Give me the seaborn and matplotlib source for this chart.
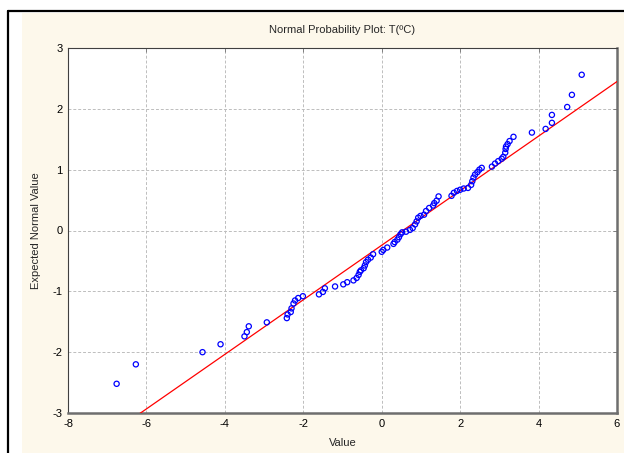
import matplotlib
matplotlib.use("Agg")
import matplotlib.pyplot as plt
import seaborn as sns
import numpy as np
import pandas as pd
from matplotlib.lines import Line2D
from matplotlib.patches import Rectangle

# ---- data ----
values = [-6.76, -6.27, -4.57, -4.11, -3.50, -3.44, -3.39, -2.93, -2.42, -2.40,
          -2.32, -2.30, -2.25, -2.21, -2.13, -2.01, -1.60, -1.50, -1.45, -1.19,
          -0.98, -0.88, -0.72, -0.64, -0.59, -0.56, -0.53, -0.46, -0.43, -0.40,
          -0.35, -0.28, -0.22, 0.00, 0.04, 0.14, 0.30, 0.33, 0.40, 0.44,
          0.48, 0.52, 0.62, 0.72, 0.79, 0.85, 0.89, 0.93, 0.99, 1.08,
          1.13, 1.21, 1.31, 1.34, 1.40, 1.45, 1.78, 1.84, 1.92, 2.00,
          2.09, 2.20, 2.28, 2.31, 2.34, 2.38, 2.44, 2.49, 2.55, 2.81,
          2.89, 2.97, 3.06, 3.10, 3.15, 3.16, 3.17, 3.21, 3.26, 3.36,
          3.83, 4.18, 4.34, 4.34, 4.73, 4.85, 5.10]
expected = [-2.52, -2.20, -2.00, -1.87, -1.74, -1.67, -1.575, -1.51, -1.44, -1.38,
            -1.34, -1.28, -1.20, -1.15, -1.11, -1.08, -1.05, -1.01, -0.95, -0.92,
            -0.885, -0.85, -0.82, -0.78, -0.73, -0.68, -0.655, -0.62, -0.575, -0.52,
            -0.48, -0.445, -0.39, -0.35, -0.32, -0.28, -0.22, -0.19, -0.15, -0.11,
            -0.06, -0.03, -0.02, 0.01, 0.04, 0.10, 0.15, 0.21, 0.24, 0.26,
            0.32, 0.37, 0.41, 0.45, 0.49, 0.56, 0.57, 0.62, 0.65, 0.67,
            0.69, 0.70, 0.75, 0.81, 0.87, 0.92, 0.96, 1.00, 1.03, 1.05,
            1.10, 1.14, 1.18, 1.21, 1.28, 1.34, 1.38, 1.42, 1.47, 1.54,
            1.61, 1.67, 1.77, 1.90, 2.03, 2.23, 2.56]
fit_mean = 0.54   # value where fitted line crosses 0
fit_sd = 2.23     # 1 / slope of fitted line
x_ticks = [-8, -6, -4, -2, 0, 2, 4, 6]
y_ticks = [-3, -2, -1, 0, 1, 2, 3]
title = "Normal Probability Plot: T(ºC)"
x_label = "Value"
y_label = "Expected Normal Value"

df = pd.DataFrame({"Value": values, "Expected": expected})

sns.set_style("white")
plt.rcParams["font.family"] = ["Liberation Sans", "DejaVu Sans"]

W, H = 624, 453
fig = plt.figure(figsize=(W / 100, H / 100), dpi=100)
fig.patch.set_facecolor("white")

# outer frame / cream panel
fig.add_artist(Rectangle((22 / W, 0), 1 - 22 / W, (H - 13) / H,
                         transform=fig.transFigure, facecolor="#FDF8EB",
                         edgecolor="none", zorder=-5))
fig.add_artist(Line2D([8 / W, 8 / W], [0, (H - 10.5) / H], transform=fig.transFigure,
                      color="black", lw=1.6, zorder=-4))
fig.add_artist(Line2D([8 / W, 1], [(H - 10.5) / H, (H - 10.5) / H],
                      transform=fig.transFigure, color="black", lw=1.6, zorder=-4))

ax = fig.add_axes([68 / W, (H - 413) / H, 549 / W, 365 / H])
ax.set_zorder(2)
ax.set_facecolor("white")

xmin, xmax = x_ticks[0], x_ticks[-1]
ymin, ymax = y_ticks[0], y_ticks[-1]

# fitted line
line_x = np.array([xmin, xmax], dtype=float)
line_df = pd.DataFrame({"x": line_x, "y": (line_x - fit_mean) / fit_sd})
sns.lineplot(data=line_df, x="x", y="y", ax=ax, color="#FF0000", lw=0.9, zorder=3)

sns.scatterplot(data=df, x="Value", y="Expected", ax=ax, marker="o", s=14,
                facecolors="none", edgecolors="#0000FF", linewidth=0.9, zorder=4)

ax.set_xlim(xmin, xmax)
ax.set_ylim(ymin, ymax)
ax.set_xticks(x_ticks)
ax.set_yticks(y_ticks)
ax.set_xticklabels([str(t) for t in x_ticks])
ax.set_yticklabels([str(t) for t in y_ticks])
ax.grid(True, color="#BDBDBD", linestyle=(0, (3, 2)), linewidth=0.7)
ax.tick_params(axis="both", direction="in", length=3, width=0.7, color="#808080",
               labelsize=8, pad=4, top=True, right=True, labelcolor="black")

for side in ("left", "top"):
    ax.spines[side].set_color("#404040")
    ax.spines[side].set_linewidth(0.8)
for side in ("right", "bottom"):
    ax.spines[side].set_color("#6E6E6E")
    ax.spines[side].set_linewidth(1.8)

ax.set_title(title, fontsize=8, pad=11)
ax.set_xlabel(x_label, fontsize=8, labelpad=7)
ax.set_ylabel(y_label, fontsize=8, labelpad=8)

fig.savefig("out.png", dpi=100, facecolor=fig.get_facecolor())
